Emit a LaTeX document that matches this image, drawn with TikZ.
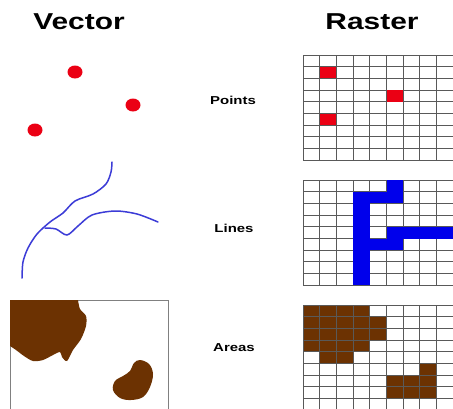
\documentclass[tikz,border=0pt]{standalone}
\usepackage{fontspec}
\setmainfont{Liberation Sans}
\definecolor{areabrown}{RGB}{108,50,2}
\definecolor{lineblue}{RGB}{60,60,215}
\definecolor{cellblue}{RGB}{0,0,235}
\definecolor{dotred}{RGB}{235,0,20}
\tikzset{
	titletext/.style={font=\bfseries\fontsize{23}{23}\selectfont},
	rowtext/.style={font=\bfseries\fontsize{11.5}{11.5}\selectfont},
	gridline/.style={black!65, line width=0.9pt},
	vecline/.style={lineblue, line width=1.5pt, line cap=round},
}
% raster cell: colour, column, row, top of grid
\newcommand{\rcell}[4]{\fill[#1] ({303+(#2-1)*16.7},{#4+(#3-1)*11.7}) rectangle +(16.7,11.7);}
\begin{document}
\begin{tikzpicture}[x=1pt, y=-1pt]
	\useasboundingbox[fill=white] (0,0) rectangle (453,408);
	\node[titletext] (vtitle) at (79,22) {\scalebox{1.3}[1]{Vector}};
	\node[titletext] (rtitle) at (372,22) {\scalebox{1.3}[1]{Raster}};
	\node[rowtext] (lpoints) at (233,100) {\scalebox{1.3}[1]{Points}};
	\node[rowtext] (llines) at (234,228) {\scalebox{1.3}[1]{Lines}};
	\node[rowtext] (lareas) at (234,348) {\scalebox{1.3}[1]{Areas}};
	% vector side
	\foreach \p in {(75,72), (133,105), (35,130)} {\fill[dotred] \p ellipse (7.5 and 6.5);}
	\draw[vecline] plot[smooth] coordinates {(112,162) (111,172) (106,184) (93,194) (75,201) (63,213) (50,222) (37,234) (28,248) (23,262) (22,278)};
	\draw[vecline] plot[smooth] coordinates {(45,228) (56,229) (67,235) (78,226) (92,215) (115,211) (137,214) (158,222)};
	\draw[gray, line width=1pt] (10,410) -- (10,300) -- (168,300) -- (168,410);
	\fill[areabrown] (10,300) -- plot[smooth, tension=0.5] coordinates {(78,300) (80,309) (86,316) (86,326) (81,339) (73,350) (67,361) (62,357) (60,352) (53,355) (43,360) (33,361) (24,356) (16,350) (10,346)} -- cycle;
	\fill[areabrown] plot[smooth cycle, tension=0.6] coordinates {(140,360) (149,364) (153,374) (150,387) (143,397) (131,400) (120,398) (113,390) (115,381) (123,376) (130,371) (134,363)};
	% raster side
	\foreach \c in {1,...,4} {\foreach \r in {1,...,4} {\rcell{areabrown}{\c}{\r}{305}}}
	\rcell{areabrown}{5}{2}{305} \rcell{areabrown}{5}{3}{305}
	\rcell{areabrown}{2}{5}{305} \rcell{areabrown}{3}{5}{305}
	\foreach \c in {6,7,8} {\rcell{areabrown}{\c}{7}{305} \rcell{areabrown}{\c}{8}{305}}
	\rcell{areabrown}{8}{6}{305}
	\foreach \g in {55,180,305} {
		\foreach \i in {0,...,9} {\draw[gridline] ({303+\i*16.7},\g) -- ({303+\i*16.7},{\g+105.3});}
		\foreach \j in {0,...,9} {\draw[gridline] (303,{\g+\j*11.7}) -- (453,{\g+\j*11.7});}
	}
	\rcell{dotred}{2}{2}{55} \rcell{dotred}{6}{4}{55} \rcell{dotred}{2}{6}{55}
	\rcell{cellblue}{6}{1}{180}
	\foreach \c in {4,5,6} {\rcell{cellblue}{\c}{2}{180}}
	\foreach \r in {3,...,9} {\rcell{cellblue}{4}{\r}{180}}
	\foreach \c in {6,...,9} {\rcell{cellblue}{\c}{5}{180}}
	\rcell{cellblue}{5}{6}{180} \rcell{cellblue}{6}{6}{180}
\end{tikzpicture}
\end{document}
